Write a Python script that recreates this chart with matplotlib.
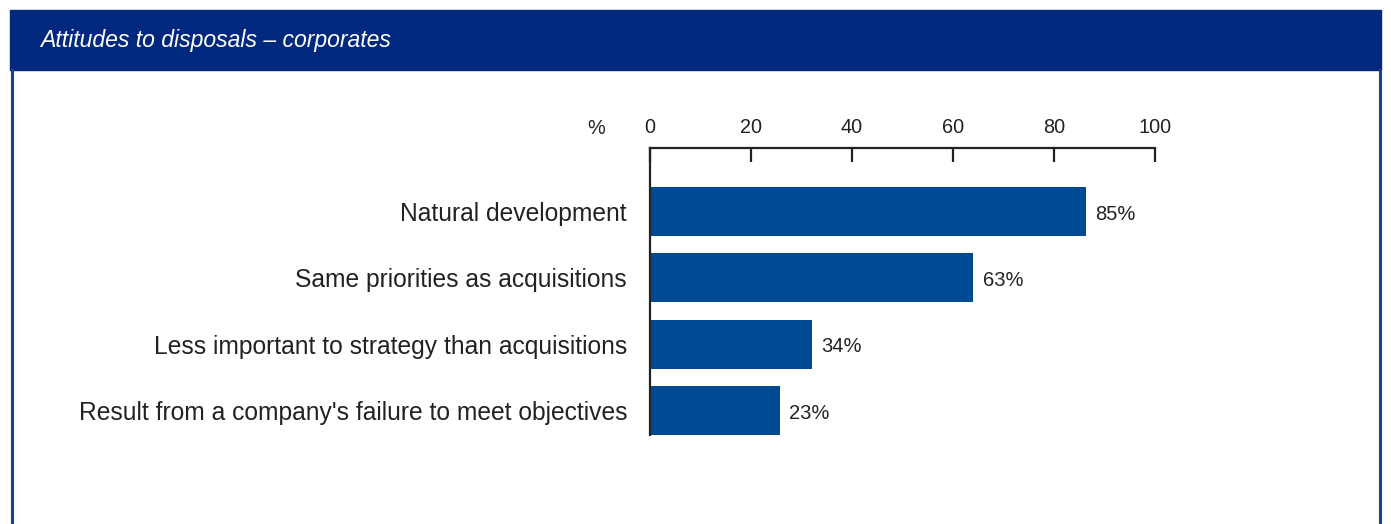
import matplotlib as mpl
mpl.use('Agg')
import matplotlib.pyplot as plt
from matplotlib.patches import Rectangle
from matplotlib.lines import Line2D

plt.rcParams['font.family'] = ['Liberation Sans', 'DejaVu Sans']

categories = ['Natural development',
              'Same priorities as acquisitions',
              'Less important to strategy than acquisitions',
              "Result from a company's failure to meet objectives"]
# bar lengths as drawn in the original, and the printed labels
bar_lengths = [86.3, 64.0, 32.1, 25.7]
value_labels = ['85%', '63%', '34%', '23%']
ticks = [0, 20, 40, 60, 80, 100]

W, H = 1391, 524
fig = plt.figure(figsize=(W / 100, H / 100), dpi=100)
fig.patch.set_facecolor('white')

navy = '#00287f'
bar_col = '#004a93'

# header band and frame
fig.patches.append(Rectangle((10 / W, 1 - 70 / H), 1371 / W, 60 / H,
                             transform=fig.transFigure, color=navy, zorder=0))
fig.text(40 / W, 1 - 40 / H, 'Attitudes to disposals \u2013 corporates',
         color='white', fontsize=16.6, style='italic', va='center', ha='left')
for x in (11.5, 1379.5):
    fig.lines.append(Line2D([x / W, x / W], [0, 1 - 70 / H],
                            transform=fig.transFigure, color='#1a3d96', lw=2.2))

# chart area: x 650..1155, y 148..435 px
ax = fig.add_axes([650 / W, 1 - 435 / H, 505 / W, 287 / H])
ypos = list(range(len(categories)))
ax.barh(ypos, bar_lengths, height=0.74, color=bar_col, zorder=2)
ax.set_xlim(0, 100)
ax.set_ylim(3.37, -0.958)

for y, v, lab in zip(ypos, bar_lengths, value_labels):
    ax.text(v + 1.9, y + 0.04, lab, va='center', ha='left', fontsize=14.5, color='#222222')

ax.set_yticks(ypos)
ax.set_yticklabels(categories, fontsize=17.7, color='#222222')
ax.tick_params(axis='y', length=0, pad=16.5)

ax.xaxis.tick_top()
ax.set_xticks(ticks)
ax.set_xticklabels([str(t) for t in ticks], fontsize=14.3, color='#222222')
ax.tick_params(axis='x', direction='in', length=10, width=1.6, color='#222222', pad=8)

for s in ('right', 'bottom'):
    ax.spines[s].set_visible(False)
for s in ('top', 'left'):
    ax.spines[s].set_linewidth(1.6)
    ax.spines[s].set_color('#222222')

fig.text(596 / W, 1 - 128 / H, '%', fontsize=14.3, color='#222222', ha='center', va='center')

fig.savefig('out.png', dpi=100)
